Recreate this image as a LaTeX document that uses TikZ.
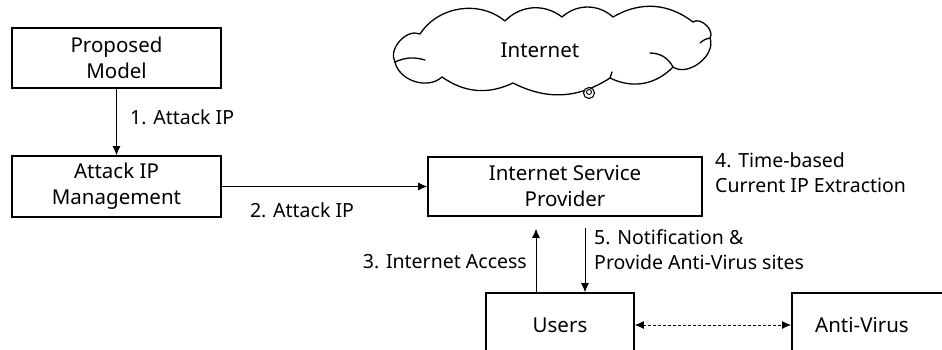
\documentclass[tikz,border=0pt]{standalone}
\usepackage{fontspec}
\setmainfont{Noto Sans}
\usetikzlibrary{arrows.meta}
\begin{document}
\begin{tikzpicture}[x=1pt,y=-1pt,
  box/.style={draw,line width=1.6pt,inner sep=0pt,font=\fontsize{20.5}{26}\selectfont,align=center},
  lbl/.style={inner sep=0pt,font=\fontsize{19.5}{25}\selectfont,align=left},
  arr/.style={line width=0.9pt,-{Latex[length=9pt,width=8pt]}},
  darr/.style={line width=0.9pt,dash pattern=on 3pt off 2pt,{Latex[length=9pt,width=8pt]}-{Latex[length=9pt,width=8pt]}},
  cloudline/.style={line width=1.3pt,line join=round,line cap=round}]
\useasboundingbox (0,0) rectangle (942,349);
\clip (0,0) rectangle (942,349);
\node[box,minimum width=209pt,minimum height=60pt] (pm) at (116.5,58) {Proposed\\Model};
\node[box,minimum width=209pt,minimum height=61pt] (aim) at (116.5,186.5) {Attack IP\\Management};
\node[box,minimum width=274pt,minimum height=59pt] (isp) at (565,186.5) {Internet Service\\Provider};
\node[box,minimum width=148pt,minimum height=64pt] (users) at (560,325) {Users};
\node[box,minimum width=170pt,minimum height=64pt,anchor=west] (av) at (791,325) {};
\node[inner sep=0pt,font=\fontsize{20.5}{26}\selectfont] (avt) at (862,325) {Anti-Virus};
% cloud outline
\draw[cloudline] (395,62) to[bend left=72] (420,34) to[bend left=48] (505,21)
  to[bend left=42] (562,17) to[bend left=42] (613,17) to[bend left=34] (693,22)
  to[bend left=80] (710,38) to[bend left=72] (673,67) to[bend left=36] (610,78)
  to[bend left=30] (513,83) to[bend left=30] (442,77) to[bend left=60] cycle;
% inner ticks of the cloud
\draw[cloudline] (395,62) to[bend left=20] (425,60);
\draw[cloudline] (710,38) to[bend right=15] (700,43);
\draw[cloudline] (673,67) to[bend right=30] (650,53);
\draw[cloudline] (610,78) to[bend left=10] (612,72);
\node[inner sep=0pt,font=\fontsize{20.5}{26}\selectfont] (clt) at (540,50) {Internet};
\node[draw,circle,line width=1.1pt,minimum size=11pt,inner sep=0pt,fill=white] (hd) at (589,93) {};
\node[draw,circle,line width=0.9pt,minimum size=5pt,inner sep=0pt] (hd2) at (589,92) {};
\coordinate (x3) at (536,0);
\coordinate (x5) at (585,0);
\draw[arr] (pm) -- (aim);
\draw[arr] (aim.east) -- (isp.west);
\draw[arr,shorten >=12pt] (users.north -| x3) -- (isp.south -| x3);
\draw[arr,shorten <=11pt] (isp.south -| x5) -- (users.north -| x5);
\draw[darr] (users.east) -- (av.west);
\node[lbl,anchor=west] (l1) at (130,117) {1. Attack IP};
\node[lbl] (l2) at (302,210) {2. Attack IP};
\node[lbl,anchor=east] (l3) at (527,262) {3. Internet Access};
\node[lbl,anchor=west] (l4) at (715,172.5) {4. Time-based\\Current IP Extraction};
\node[lbl,anchor=west] (l5) at (594,249.5) {5. Notification \&\\Provide Anti-Virus sites};
\end{tikzpicture}
\end{document}
